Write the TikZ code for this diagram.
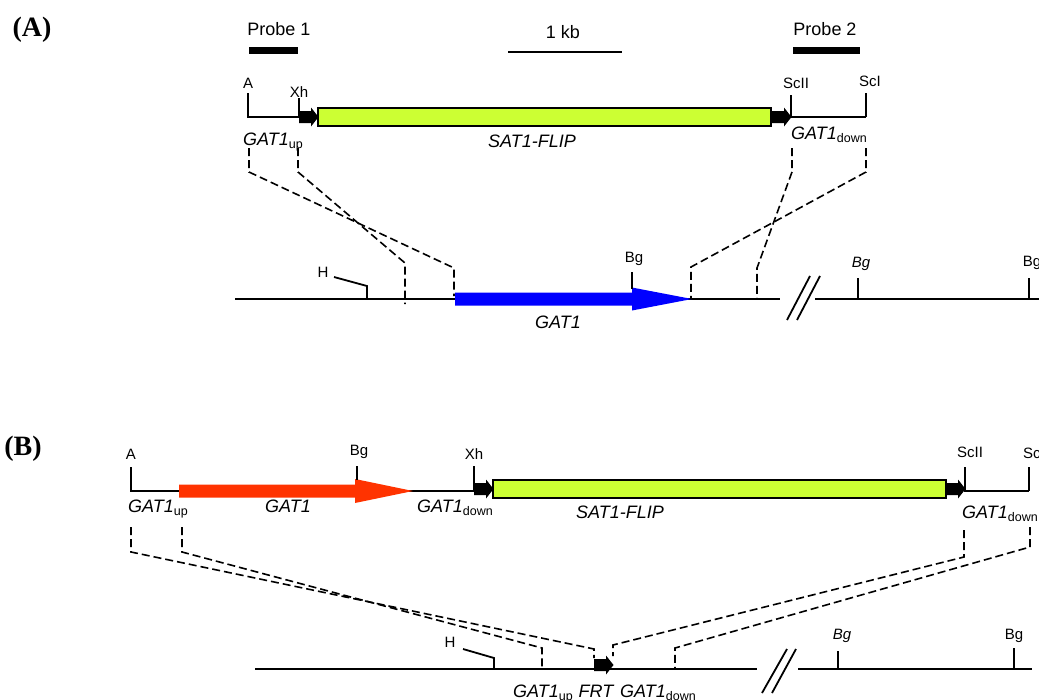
\documentclass[tikz,border=0pt]{standalone}
\usepackage{fontspec}
\setmainfont{Liberation Sans}
\newfontfamily\panelfont{Liberation Serif}
\definecolor{flipgreen}{RGB}{204,255,51}
\definecolor{genered}{RGB}{255,51,0}
\definecolor{geneblue}{RGB}{0,0,255}

% italic gene name with an upright, lowered subscript
\newcommand\gat[1]{\textit{GAT1}\raisebox{-3pt}{\fontsize{12.5}{14}\selectfont\upshape #1}}

% black FRT block arrow: tail x, centre y
\newcommand\frtarrow[2]{%
  \fill ({#1},{#2-6}) -- ({#1+12},{#2-6}) -- ({#1+12},{#2-9.5}) --
        ({#1+19.5},{#2}) -- ({#1+12},{#2+9.5}) -- ({#1+12},{#2+6}) --
        ({#1},{#2+6}) -- cycle;}

% gene block arrow: tail x, head start x, tip x, centre y, body half, head half, colour
\newcommand\genearrow[7]{%
  \fill[#7] ({#1},{#4-#5}) -- ({#2},{#4-#5}) -- ({#2},{#4-#6}) --
        ({#3},{#4}) -- ({#2},{#4+#6}) -- ({#2},{#4+#5}) -- ({#1},{#4+#5}) -- cycle;}

\tikzset{
  dna/.style={line width=1.8pt},
  homol/.style={line width=1.6pt, dash pattern=on 8pt off 4pt},
  sitelbl/.style={font=\fontsize{15}{17}\selectfont, inner sep=0pt},
  genelbl/.style={font=\fontsize{18}{20}\selectfont\itshape, inner sep=0pt},
  toplbl/.style={font=\fontsize{18}{20}\selectfont, inner sep=0pt},
  panellbl/.style={font=\panelfont\bfseries\fontsize{28}{30}\selectfont, inner sep=0pt},
  flipbar/.style={fill=flipgreen, draw=black, line width=1.8pt},
}

\begin{document}
\begin{tikzpicture}[x=1pt,y=-1pt]
\useasboundingbox (0,0) rectangle (1039,699);

% ---------------- panel A ----------------
\node[panellbl] (pA) at (32,30) {(A)};

% probes and scale bar
\node[toplbl] (probe1) at (279,29) {Probe 1};
\node[toplbl] (probe2) at (825,29) {Probe 2};
\node[toplbl] (kb) at (563,32) {1 kb};
\fill (249,46.5) rectangle (298,53.5);
\fill (793,46.5) rectangle (860,53.5);
\draw[line width=1.5pt] (508,52) -- (622,52);

% deletion cassette
\draw[dna] (248,93) -- (248,117) -- (299,117);
\draw[dna] (299,98) -- (299,117);
\frtarrow{299}{117}
\draw[flipbar] (318,108) rectangle (771,126);
\frtarrow{772}{117}
\draw[dna] (791,95) -- (791,117) -- (866,117);
\draw[dna] (866,93) -- (866,117);

\node[sitelbl] (aA) at (248,83.5) {A};
\node[sitelbl] (xhA) at (299,92) {Xh};
\node[sitelbl] (scIIA) at (796,83.5) {ScII};
\node[sitelbl] (scIA) at (870,81) {ScI};
\node[genelbl, anchor=base west] (upA) at (243,145) {\gat{up}};
\node[genelbl, anchor=base west] (downA) at (791,139) {\gat{down}};
\node[genelbl] (flipA) at (532,141) {SAT1-FLIP};

% genomic locus
\draw[dna] (235,299) -- (780,299);
\draw[dna] (815,299) -- (1045,299);
\draw[dna] (787,320) -- (810,276);
\draw[dna] (797,320) -- (820,276);
\genearrow{455}{632}{692}{299}{6.5}{11.5}{geneblue}
\draw[dna] (334,277) -- (367,286) -- (367,299);
\draw[dna] (632,272) -- (632,289);
\draw[dna] (858,278) -- (858,299);
\draw[dna] (1029,278) -- (1029,299);
\node[sitelbl] (hA) at (323,272) {H};
\node[sitelbl] (bgA1) at (634,259) {Bg};
\node[sitelbl, font=\fontsize{15}{17}\selectfont\itshape] (bgA2) at (861,263.5) {Bg};
\node[sitelbl] (bgA3) at (1032,263) {Bg};
\node[genelbl] (geneA) at (558,322) {GAT1};

% homologous regions
\draw[homol] (249,148) -- (249,172) -- (454,268) -- (454,296);
\draw[homol] (298,148) -- (298,172) -- (405,263) -- (405,304);
\draw[homol] (866,148) -- (866,172) -- (691,267) -- (691,299);
\draw[homol] (792,148) -- (792,172) -- (757,268) -- (757,299);

% ---------------- panel B ----------------
\node[panellbl] (pB) at (23,449) {(B)};

% complementation cassette
\draw[dna] (131,467) -- (131,491) -- (474,491);
\genearrow{179}{355}{413}{491}{6.5}{12}{genered}
\draw[dna] (357,466) -- (357,480);
\draw[dna] (474,466) -- (474,491);
\frtarrow{474}{489}
\draw[flipbar] (493,480) rectangle (946,498);
\frtarrow{946}{489}
\draw[dna] (965,467) -- (965,491) -- (1029,491);
\draw[dna] (1029,467) -- (1029,491);

\node[sitelbl] (aB) at (131,454) {A};
\node[sitelbl] (bgB0) at (359,452) {Bg};
\node[sitelbl] (xhB) at (474,454) {Xh};
\node[sitelbl] (scIIB) at (970,452) {ScII};
\node[sitelbl] (scIB) at (1034,453) {ScI};
\node[genelbl, anchor=base west] (upB) at (128,512) {\gat{up}};
\node[genelbl] (geneB) at (288,506) {GAT1};
\node[genelbl, anchor=base west] (downB1) at (417,512) {\gat{down}};
\node[genelbl] (flipB) at (620,512) {SAT1-FLIP};
\node[genelbl, anchor=base west] (downB2) at (962,518) {\gat{down}};

% reconstituted locus
\draw[dna] (255,669) -- (757,669);
\draw[dna] (798,669) -- (1032,669);
\draw[dna] (762,693) -- (787,649);
\draw[dna] (772,693) -- (796,649);
\frtarrow{594}{665}
\draw[dna] (463,649) -- (494,658) -- (494,669);
\draw[dna] (838,651) -- (838,669);
\draw[dna] (1014,648) -- (1014,669);
\node[sitelbl] (hB) at (450,642) {H};
\node[sitelbl, font=\fontsize{15}{17}\selectfont\itshape] (bgB1) at (842,636) {Bg};
\node[sitelbl] (bgB2) at (1014,636) {Bg};
\node[genelbl, anchor=base west] (upC) at (513,697) {\gat{up}};
\node[genelbl] (frtC) at (596,691) {FRT};
\node[genelbl, anchor=base west] (downC) at (620,697) {\gat{down}};

% homologous regions
\draw[homol] (131,527) -- (131,552) -- (594,649) -- (594,658);
\draw[homol] (182,527) -- (182,552) -- (542,648) -- (542,669);
\draw[homol] (964,530) -- (964,557) -- (613,645) -- (613,656);
\draw[homol] (1030,527) -- (1030,547) -- (675,648) -- (675,669);
\end{tikzpicture}
\end{document}
